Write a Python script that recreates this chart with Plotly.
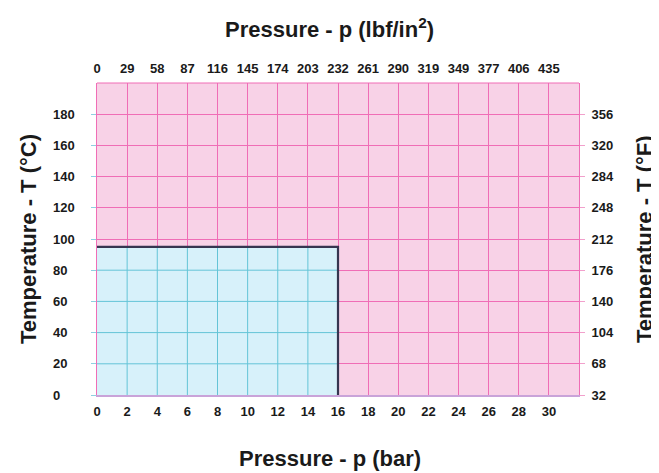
import plotly.graph_objects as go

# ---- data ----
bar_ticks = [0, 2, 4, 6, 8, 10, 12, 14, 16, 18, 20, 22, 24, 26, 28, 30]
psi_labels = ["0", "29", "58", "87", "116", "145", "174", "203", "232", "261",
              "290", "319", "349", "377", "406", "435"]
temp_c_ticks = [0, 20, 40, 60, 80, 100, 120, 140, 160, 180]
temp_f_labels = ["32", "68", "104", "140", "176", "212", "248", "284", "320", "356"]
x_range = [0, 32]
y_range = [0, 200]
limit_pressure_bar = 16
limit_temp_c = 95

PINK_BG = "#F8D2E7"
PINK_GRID = "#F06DB6"
BLUE_BG = "#D7F1FA"
BLUE_GRID = "#64C4D7"
BORDER = "#363550"
TXT = "#1a1a1a"
FONT = "Liberation Sans"

fig = go.Figure()

# blue operating region fill
fig.add_trace(go.Scatter(
    x=[0, limit_pressure_bar, limit_pressure_bar, 0, 0],
    y=[0, 0, limit_temp_c, limit_temp_c, 0],
    fill="toself", fillcolor=BLUE_BG, mode="lines",
    line=dict(width=0, color=BLUE_BG), hoverinfo="skip", showlegend=False))

# blue grid lines inside region
gx, gy = [], []
for v in bar_ticks:
    if 0 < v < limit_pressure_bar:
        gx += [v, v, None]
        gy += [0, limit_temp_c, None]
for t in temp_c_ticks:
    if 0 < t < limit_temp_c:
        gx += [0, limit_pressure_bar, None]
        gy += [t, t, None]
fig.add_trace(go.Scatter(x=gx, y=gy, mode="lines",
                         line=dict(color=BLUE_GRID, width=1),
                         hoverinfo="skip", showlegend=False))

# region border
fig.add_trace(go.Scatter(
    x=[0, limit_pressure_bar, limit_pressure_bar],
    y=[limit_temp_c, limit_temp_c, 0],
    mode="lines", line=dict(color=BORDER, width=2.2),
    hoverinfo="skip", showlegend=False))

# dummy traces to activate secondary axes
fig.add_trace(go.Scatter(x=[0], y=[0], xaxis="x2", yaxis="y", mode="markers",
                         marker=dict(size=0.1, opacity=0), hoverinfo="skip", showlegend=False))
fig.add_trace(go.Scatter(x=[0], y=[0], xaxis="x", yaxis="y2", mode="markers",
                         marker=dict(size=0.1, opacity=0), hoverinfo="skip", showlegend=False))

tickfont = dict(family=FONT, size=13, color=TXT, weight="bold")

fig.update_layout(
    width=651, height=465,
    margin=dict(l=89, r=80, t=75, b=78),
    paper_bgcolor="white",
    plot_bgcolor=PINK_BG,
    showlegend=False,
    xaxis=dict(range=x_range, tickvals=bar_ticks, ticktext=[str(v) for v in bar_ticks],
               showgrid=True, gridcolor=PINK_GRID, gridwidth=1, zeroline=False,
               showline=True, linecolor="#C9A3D9", linewidth=1.5,
               ticks="", tickfont=tickfont, ticklabelstandoff=4, fixedrange=True),
    xaxis2=dict(range=x_range, overlaying="x", side="top", tickvals=bar_ticks,
                ticktext=psi_labels, showgrid=False, zeroline=False, ticks="",
                tickfont=tickfont, ticklabelstandoff=6, showline=False),
    yaxis=dict(range=y_range, tickvals=temp_c_ticks, showticklabels=False,
               showgrid=True, gridcolor=PINK_GRID, gridwidth=1, zeroline=False,
               showline=True, linecolor=PINK_GRID, linewidth=1, mirror=False,
               ticks="outside", ticklen=5, tickcolor="#8FD0E0", tickwidth=1,
               dtick=20, fixedrange=True),
    yaxis2=dict(range=y_range, overlaying="y", side="right", tickvals=temp_c_ticks,
                ticktext=temp_f_labels, showgrid=False, zeroline=False,
                showline=True, linecolor=PINK_GRID, linewidth=1,
                ticks="outside", ticklen=5, tickcolor="#F2A0CC", tickwidth=1,
                tickfont=tickfont, ticklabelstandoff=4),
)

# top border line
fig.add_shape(type="line", xref="paper", yref="paper", x0=0, x1=1, y0=1, y1=1,
              line=dict(color=PINK_GRID, width=1))

# left temperature labels (left-aligned)
for t in temp_c_ticks:
    fig.add_annotation(x=-0.095, xref="paper", y=t, yref="y", text=str(t),
                       showarrow=False, xanchor="left", yanchor="middle",
                       font=tickfont)

title_font = dict(family=FONT, size=22, color=TXT, weight="bold")
fig.add_annotation(x=0.483, y=1.176, xref="paper", yref="paper",
                   text="Pressure - p (lbf/in<sup>2</sup>)", showarrow=False,
                   font=title_font, xanchor="center", yanchor="middle")
fig.add_annotation(x=0.483, y=-0.205, xref="paper", yref="paper",
                   text="Pressure - p (bar)", showarrow=False,
                   font=title_font, xanchor="center", yanchor="middle")
fig.add_annotation(x=-0.143, y=0.5, xref="paper", yref="paper",
                   text="Temperature - T (°C)", showarrow=False, textangle=-90,
                   font=title_font, xanchor="center", yanchor="middle")
fig.add_annotation(x=1.135, y=0.5, xref="paper", yref="paper",
                   text="Temperature - T (°F)", showarrow=False, textangle=-90,
                   font=title_font, xanchor="center", yanchor="middle")

fig.write_html("out.html")
